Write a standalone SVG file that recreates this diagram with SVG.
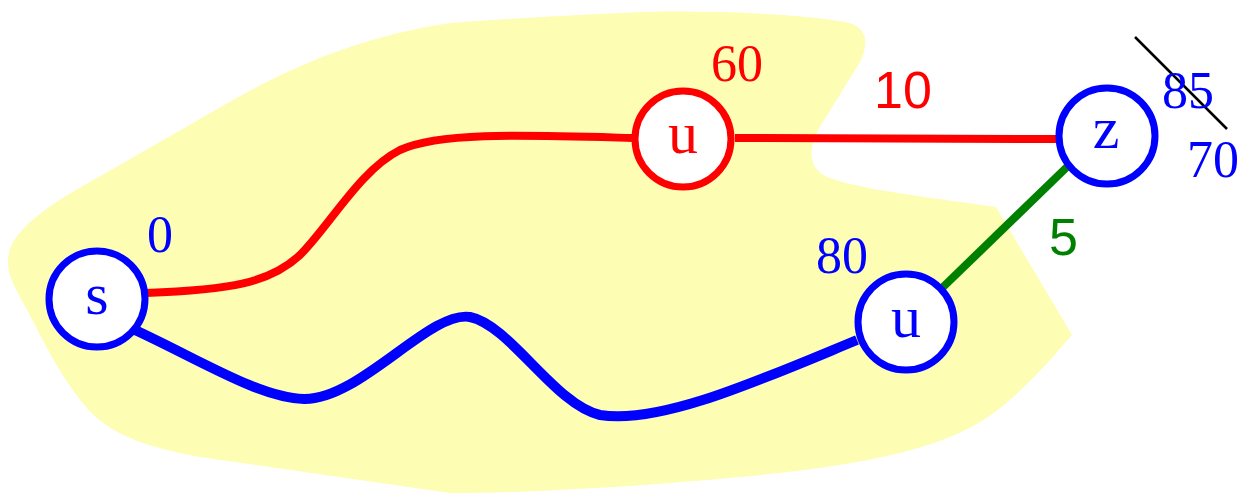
<svg xmlns="http://www.w3.org/2000/svg" width="1243" height="493" viewBox="0 0 1243 493">
<style>
.serif{font-family:"Liberation Serif","Times New Roman",serif}
.sans{font-family:"Liberation Sans",Arial,sans-serif}
.node{fill:#fff;stroke-width:7}
.lbl{font-size:60px;text-anchor:middle}
.num{font-size:52px}
</style>
<rect width="1243" height="493" fill="#fff"/>
<path id="region" d="M 620,13 C 700,9 800,14 845,22 C 870,27 868,45 860,62 L 818,130 C 808,150 808,170 830,178 C 860,190 950,200 996,207 L 1072,335 C 1040,372 1010,405 975,425 C 930,450 860,466 740,477 C 620,488 520,493 450,493 L 200,457 C 150,448 118,436 97,418 C 75,398 55,365 35,325 C 20,295 8,280 8,262 C 8,245 18,232 35,218 C 52,204 65,196 90,182 L 233,100 C 300,62 370,35 450,23 C 530,17 580,15 620,13 Z" fill="#fdfdb4"/>
<g id="connectors" fill="none">
<path d="M 146,293 C 230,290 270,283 300,255 C 330,225 360,170 400,150 C 440,132 520,135 632,138" stroke="#ff0000" stroke-width="8"/>
<path d="M 135,330 C 200,360 260,398 304,399 C 360,400 430,310 470,317 C 510,325 555,405 600,415 C 660,425 760,380 857,340" stroke="#0000ff" stroke-width="10"/>
<path d="M 735,138 L 1056,139" stroke="#ff0000" stroke-width="8"/>
<path d="M 1068,166 L 940,290" stroke="#008000" stroke-width="8"/>
<path d="M 1135,37 L 1227,129" stroke="#000" stroke-width="2.5"/>
</g>
<g id="node-s">
<circle class="node" cx="97" cy="299" r="48" stroke="#0000ff"/>
<text class="serif lbl" x="97" y="314" fill="#0000ff">s</text>
<text class="serif num" x="147" y="252" fill="#0000ff">0</text>
</g>
<g id="node-u1">
<circle class="node" cx="683" cy="139" r="48" stroke="#ff0000"/>
<text class="serif lbl" x="683" y="153" fill="#ff0000">u</text>
<text class="serif num" x="711" y="81" fill="#ff0000">60</text>
</g>
<g id="node-z">
<circle class="node" cx="1107" cy="136" r="48" stroke="#0000ff"/>
<text class="serif lbl" x="1106" y="148" fill="#0000ff">z</text>
<text class="serif num" x="1162" y="108" fill="#0000ff">85</text>
<text class="serif num" x="1187" y="177" fill="#0000ff">70</text>
</g>
<g id="node-u2">
<circle class="node" cx="906" cy="322" r="48" stroke="#0000ff"/>
<text class="serif lbl" x="906" y="337" fill="#0000ff">u</text>
<text class="serif num" x="816" y="273" fill="#0000ff">80</text>
</g>
<g id="edge-labels">
<text class="sans num" x="874" y="108" fill="#ff0000">10</text>
<text class="sans num" x="1049" y="255" fill="#008000">5</text>
</g>
</svg>
